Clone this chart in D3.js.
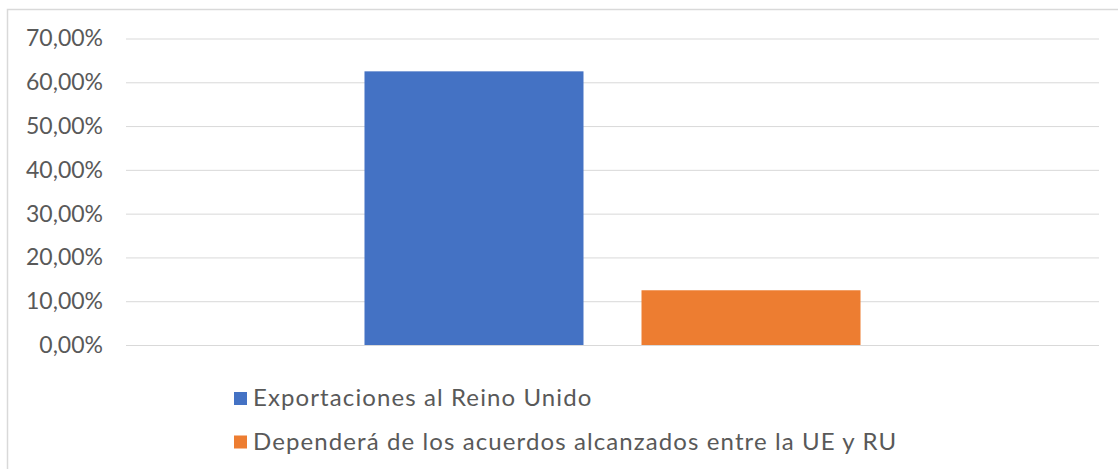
<!DOCTYPE html>
<html>
<head>
<meta charset="utf-8">
<script src="https://cdn.jsdelivr.net/npm/d3@7"></script>
<style>
  html, body { margin: 0; padding: 0; background: #fff; }
  svg { display: block; }
  text { font-family: "Century Gothic", Lato, "DejaVu Sans", sans-serif; fill: #595959; }
</style>
</head>
<body>
<div id="chart"></div>
<script>
// chart data
var categories = [""];
var seriesNames = ["Exportaciones al Reino Unido", "Dependerá de los acuerdos alcanzados entre la UE y RU"];
var seriesValues = [0.625, 0.125];
var seriesColors = ["#4472c4", "#ed7d31"];
var yTicks = [0, 0.1, 0.2, 0.3, 0.4, 0.5, 0.6, 0.7];

var width = 1118, height = 469;
var plot = { left: 126, right: 1099, top: 38.5, bottom: 345 };

var locale = d3.formatLocale({ decimal: ",", thousands: ".", grouping: [3], currency: ["", "€"] });
var fmt = locale.format(".2%");

var svg = d3.select("#chart").append("svg")
    .attr("width", width)
    .attr("height", height);

// outer frame (only top and left edges visible)
svg.append("path")
    .attr("d", "M7.5,469 V9.5 H1118")
    .attr("fill", "none")
    .attr("stroke", "#d9d9d9")
    .attr("stroke-width", 1.5);

var y = d3.scaleLinear().domain([0, 0.7]).range([plot.bottom, plot.top]);

var x0 = d3.scaleBand()
    .domain(categories)
    .range([plot.left, plot.right])
    .paddingInner(0)
    .paddingOuter(0.4808);

var x1 = d3.scaleBand()
    .domain(seriesNames)
    .range([0, x0.bandwidth()])
    .paddingInner(0.2094)
    .paddingOuter(0);

// gridlines + y labels
var yAxis = d3.axisLeft(y)
    .tickValues(yTicks)
    .tickFormat(fmt)
    .tickSize(-(plot.right - plot.left))
    .tickPadding(23);

var gy = svg.append("g")
    .attr("transform", "translate(" + plot.left + ",0)")
    .call(yAxis);
gy.select(".domain").remove();
gy.selectAll(".tick line").attr("stroke", "#d9d9d9").attr("stroke-width", 1);
gy.selectAll(".tick text")
    .attr("font-size", 23)
    .attr("fill", "#595959")
    .style("font-family", "\"Century Gothic\", Lato, \"DejaVu Sans\", sans-serif");

// bars
var rows = seriesNames.map(function (s, i) {
    return { cat: categories[0], name: s, value: seriesValues[i], color: seriesColors[i] };
});

svg.append("g").selectAll("rect")
    .data(rows).enter()
    .append("rect")
    .attr("x", function (d) { return x0(d.cat) + x1(d.name); })
    .attr("y", function (d) { return y(d.value); })
    .attr("width", x1.bandwidth())
    .attr("height", function (d) { return y(0) - y(d.value); })
    .attr("fill", function (d) { return d.color; });

// legend
var legend = svg.append("g").attr("transform", "translate(234,392)");
var items = legend.selectAll("g")
    .data(rows).enter()
    .append("g")
    .attr("transform", function (d, i) { return "translate(0," + (i * 43.5) + ")"; });
items.append("rect")
    .attr("width", 13)
    .attr("height", 13)
    .attr("fill", function (d) { return d.color; });
items.append("text")
    .attr("x", 19)
    .attr("y", 14)
    .attr("font-size", 24)
    .style("letter-spacing", "1.1px")
    .text(function (d) { return d.name; });
</script>
</body>
</html>
